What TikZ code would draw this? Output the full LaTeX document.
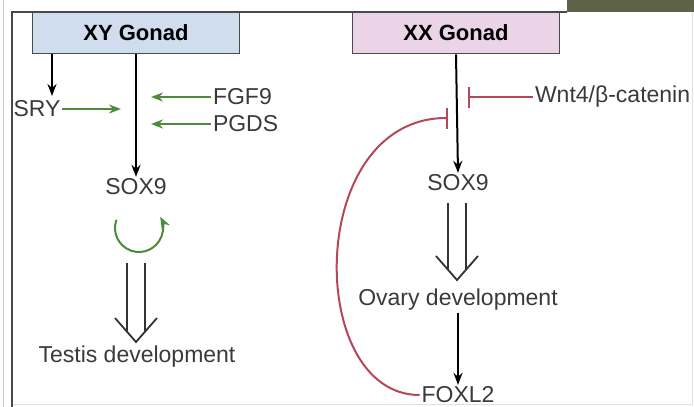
\documentclass[tikz,border=0pt]{standalone}
\usepackage{fontspec}
\setmainfont{Liberation Sans}
\usepackage{tikz}
\usepackage{xcolor}
\usetikzlibrary{arrows.meta,positioning}

\definecolor{xyfill}{HTML}{CFDDEE}
\definecolor{xxfill}{HTML}{EBD4E7}
\definecolor{boxline}{HTML}{4A4A4A}
\definecolor{genetext}{HTML}{3A3A3A}
\definecolor{actgreen}{HTML}{4E8A3C}
\definecolor{inhred}{HTML}{B4475A}
\definecolor{olive}{HTML}{5E6347}

% hollow double arrow: #1 start, #2 tip
\newcommand{\devarrow}[2]{%
  \draw[dev] ([xshift=-9pt]#1) -- ([xshift=-9pt,yshift=10pt]#2);
  \draw[dev] ([xshift=9pt]#1) -- ([xshift=9pt,yshift=10pt]#2);
  \draw[dev] ([xshift=-21pt,yshift=24pt]#2) -- (#2) -- ([xshift=21pt,yshift=24pt]#2);}

\begin{document}
\begin{tikzpicture}[x=1pt,y=1pt,>={Stealth[length=12pt,width=9pt]},line width=2pt,
    gonad node/.style={rectangle,draw=boxline,line width=1.6pt,minimum width=207pt,
                       minimum height=41pt,font=\fontsize{22}{26}\selectfont\bfseries},
    gene node/.style={text=genetext,inner sep=1pt,font=\fontsize{23}{27}\selectfont},
    act/.style={->,draw=actgreen,line width=2pt},
    inh/.style={-{Bar[width=21pt,line width=2.4pt]},draw=inhred,line width=2pt},
    dev/.style={draw=black!80,line width=1.8pt,line join=miter}]

  \useasboundingbox (0,0) rectangle (694,-407);

  % frame
  \draw[gray!40,line width=1pt] (3,0) -- (3,-407);
  \draw[gray!25,line width=1pt] (692,-12) -- (692,-404) -- (12,-404);
  \draw[boxline,line width=1.6pt] (12,-407) -- (12,-12) -- (567,-12);
  \fill[olive] (567,0) rectangle (694,-12);

  % gonads
  \node[gonad node,fill=xyfill] (xy) at (136,-33) {XY Gonad};
  \node[gonad node,fill=xxfill] (xx) at (456,-33) {XX Gonad};

  % testis side
  \node[gene node] (sry) at (37,-109) {SRY};
  \node[gene node,anchor=west] (fgf9) at (211,-97) {FGF9};
  \node[gene node,anchor=west] (pgds) at (211,-124) {PGDS};
  \node[gene node] (sox9l) at (136,-187) {SOX9};
  \node[gene node] (testis) at (137,-357) {Testis development};

  \coordinate (srytop) at (52,-54);
  \coordinate (srytip) at (52,-96);
  \coordinate (srymeet) at (121,-109);
  \coordinate (fgfmeet) at (151,-97);
  \coordinate (pgdmeet) at (151,-124);
  \coordinate (loopend) at (136,-263);
  \coordinate (testistip) at (136,-342);

  % ovary side
  \node[gene node,anchor=west] (wnt) at (533,-97) {Wnt4/β-catenin};
  \node[gene node] (sox9r) at (458,-183) {SOX9};
  \node[gene node] (ovary) at (458,-300) {Ovary development};
  \node[gene node] (foxl2) at (458,-395) {FOXL2};

  \coordinate (wntbar) at (468,-97);
  \coordinate (foxbar) at (448,-118);
  \coordinate (sox9rend) at (457,-203);
  \coordinate (ovarytip) at (457,-280);

  \path
    (srytop) edge [->] (srytip)
    (xy.south) edge [->] (sox9l.north)
    (sry) edge [act] (srymeet)
    (fgf9) edge [act] (fgfmeet)
    (pgds) edge [act] (pgdmeet)
    (xx.south) edge [->] (sox9r.north)
    (wnt) edge [inh] (wntbar)
    (ovary.south) edge [->] (foxl2.north)
    ;

  \devarrow{loopend}{testistip}
  \devarrow{sox9rend}{ovarytip}

  % SOX9 self loop
  \draw[act] (139,-228) ++(160:24) arc (160:388:24);

  % FOXL2 feedback
  \draw[inh] (foxl2.west) .. controls (305,-395) and (305,-118) .. (foxbar);

\end{tikzpicture}
\end{document}
